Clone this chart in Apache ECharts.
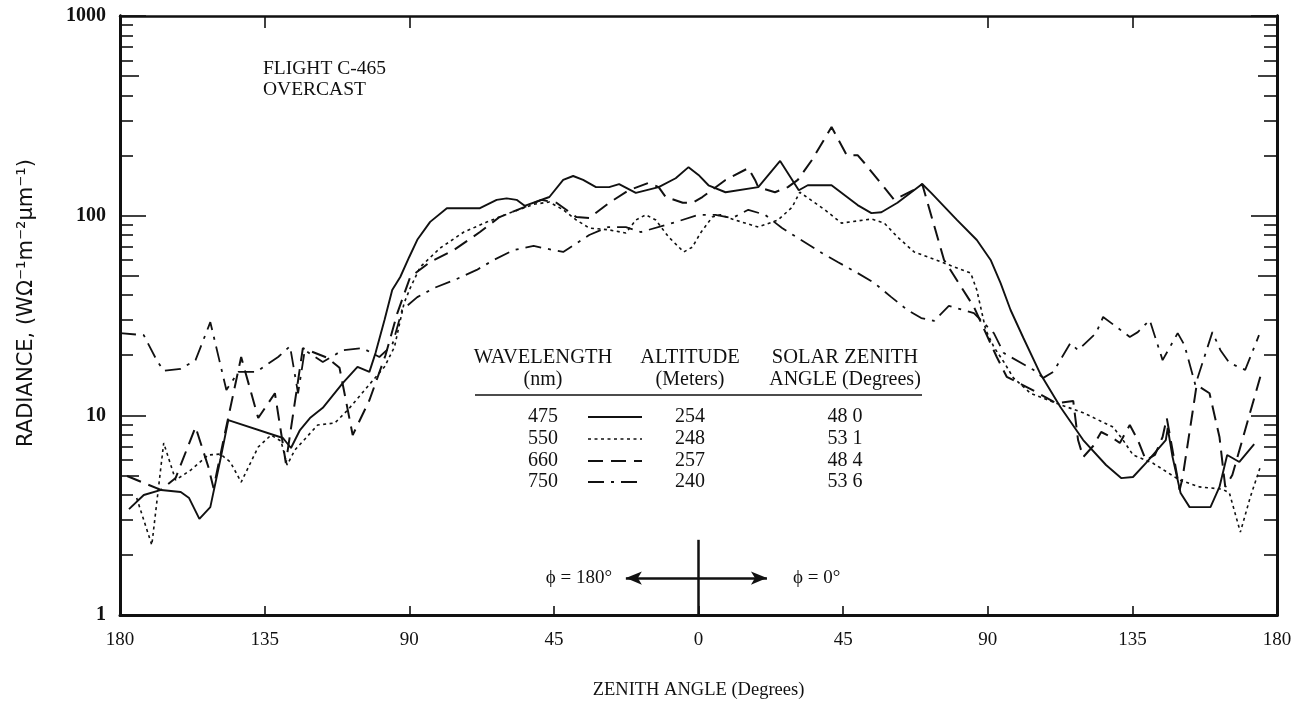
<!DOCTYPE html>
<html>
<head>
<meta charset="utf-8">
<script src="https://cdn.jsdelivr.net/npm/echarts@6/dist/echarts.min.js"></script>
<style>
  html, body { margin: 0; padding: 0; background: #fff; }
  #chart { width: 1313px; height: 705px; }
</style>
</head>
<body>
<div id="chart"></div>
<script>
// Zenith angle: negative = phi 180 side (left half), positive = phi 0 side (right half)
const angles475 = [-177.2,-172.6,-167.2,-161.1,-158.5,-155.3,-151.9,-148.8,-146.3,-129.3,-126.8,-124.0,-120.9,-116.9,-110.7,-106.1,-102.4,-100.5,-97.7,-95.3,-92.8,-90.0,-87.5,-83.5,-78.3,-68.0,-62.8,-59.7,-56.6,-54.1,-46.4,-42.1,-39.0,-35.9,-31.9,-27.8,-24.7,-19.5,-12.4,-7.1,-3.1,0,3.1,8.4,18.6,25.4,31.2,34.0,41.4,49.5,53.8,56.9,61.9,69.6,72.4,80.4,86.6,90.9,94.0,97.1,101.1,106.4,112.6,119.7,126.8,131.5,135.2,139.2,145.4,146.0,147.5,150.0,152.8,159.3,162.1,164.5,168.3,172.9];
const radiance475 = [3.39,3.99,4.23,4.13,3.85,3.03,3.47,5.97,9.47,7.70,6.86,8.44,9.69,10.9,14.5,17.5,16.5,20.5,30.0,42.4,49.3,62.1,75.7,93.1,109,109,120,122,120,112,124,151,158,151,139,139,144,130,139,154,175,160,142,131,139,188,134,142,142,113,103,104,116,144,130,95.2,75.5,60.0,45.9,33.7,24.4,16.1,11.0,7.52,5.64,4.85,4.91,5.77,7.52,8.64,6.18,4.08,3.47,3.47,4.38,6.33,5.84,7.18];

const angles550 = [-174.8,-170.1,-166.4,-162.7,-158.0,-152.5,-148.8,-145.7,-142.3,-137.0,-133.0,-129.9,-128.0,-125.6,-118.5,-113.2,-109.2,-103.0,-97.7,-94.6,-91.6,-89.7,-86.6,-80.4,-73.0,-65.9,-58.8,-51.3,-46.4,-42.1,-38.0,-34.0,-27.8,-22.6,-19.5,-16.4,-13.3,-9.3,-4.6,-1.9,0.6,4.3,6.8,11.4,18.6,24.7,29.1,31.5,39.3,44.5,53.8,57.8,61.9,67.1,76.4,84.7,86.6,89.4,91.9,95.0,98.0,103.3,111.3,119.7,129.0,132.1,135.2,141.3,149.7,155.9,163.0,165.2,168.6,171.7,174.8];
const radiance550 = [3.85,2.24,7.27,4.74,5.32,6.33,6.40,5.84,4.63,6.94,7.96,7.43,5.64,6.70,8.94,9.15,10.6,13.9,17.5,22.0,36.5,43.4,55.3,68.8,82.8,92.9,103,114,117,107,95.1,86.7,84.9,81.8,95.1,101,95.1,78.2,65.8,69.6,81.8,98.4,101,95.1,87.7,95.1,110,131,107,91.8,96.2,91.8,78.2,65.8,57.9,51.6,42.4,26.7,22.0,18.5,15.4,12.9,11.5,10.3,8.74,7.52,6.33,5.77,4.74,4.38,4.27,4.08,2.60,3.90,5.51];

const angles660 = [-177.8,-167.3,-162.7,-156.5,-152.5,-150.9,-147.8,-142.3,-137.0,-131.8,-128.4,-123.1,-115.4,-111.7,-107.6,-102.4,-97.4,-93.7,-89.7,-83.5,-76.1,-68.0,-61.9,-54.4,-48.9,-44.2,-38.0,-34.0,-27.8,-21.7,-15.5,-12.4,-10.2,-4.9,-1.9,1.2,8.4,15.5,17.6,18.6,23.8,27.8,30.9,35.3,41.4,46.1,49.5,51.7,60.9,68.0,69.6,76.4,85.7,92.8,95.9,98.0,105.8,111.3,116.6,118.1,119.7,122.8,125.3,128.4,131.1,134.2,136.7,139.2,142.0,144.4,145.7,147.5,149.7,150.6,153.7,155.0,159.0,162.1,163.9,166.1,169.2,174.8];
const radiance660 = [4.97,4.23,4.85,8.74,5.51,4.32,7.52,19.6,9.69,12.9,5.77,21.7,19.4,17.3,7.96,11.9,20.0,32.5,49.3,58.6,67.3,82.8,98.4,110,120,116,98.4,97.3,116,134,146,139,124,116,116,124,151,173,151,139,131,139,151,190,278,201,201,183,120,137,144,60.0,34.9,19.6,15.6,15.0,12.9,11.5,11.8,7.52,6.18,7.02,8.25,7.79,7.27,8.94,7.52,5.97,6.33,7.79,9.69,6.70,4.23,4.85,10.3,14.2,12.9,7.79,4.38,5.02,7.52,15.6];

const angles750 = [-180,-172.6,-168.6,-166.4,-161.1,-156.5,-151.9,-146.9,-143.2,-137.6,-130.8,-127.1,-124.6,-122.5,-116.9,-110.7,-104.5,-99.3,-95.3,-92.2,-87.5,-82.3,-75.2,-69.0,-63.7,-57.5,-51.3,-45.2,-42.1,-34.0,-28.1,-22.6,-17.9,-7.1,0,5.3,10.5,15.5,20.7,26.0,30.9,38.4,43.3,49.5,54.7,60.0,65.0,69.3,73.3,77.9,85.7,91.9,95.0,104.2,107.3,110.4,115.7,118.1,123.7,125.9,134.2,136.7,140.4,144.4,149.1,151.2,154.6,159.9,162.4,165.2,170.1,174.4];
const radiance750 = [25.8,25.2,18.9,16.7,17.1,18.9,29.3,13.4,16.5,16.5,19.6,22.2,12.9,21.2,18.5,21.2,21.7,19.6,22.5,33.7,39.1,43.4,48.2,53.5,60.0,67.3,70.5,67.3,65.8,80.0,87.7,87.7,82.8,92.9,101,101,97.3,107,101,86.7,77.3,65.0,58.6,51.6,46.0,39.1,33.7,30.7,29.7,35.3,32.5,25.8,20.5,16.9,15.4,16.5,23.0,21.2,25.8,31.1,24.7,26.1,30.0,18.9,25.8,22.5,14.2,26.1,21.2,18.3,16.9,25.2];

// Legend table rows
const wavelengths = ['475', '550', '660', '750'];
const altitudes = ['254', '248', '257', '240'];
const solarZenith = ['48 0', '53 1', '48 4', '53 6'];

// Axis tick positions and labels
const xTickLabels = ['180', '135', '90', '45', '0', '45', '90', '135', '180'];
const topTicks = [-135, -90, 90, 135];
const yTickLabels = { 1: '1', 10: '10', 100: '100', 1000: '1000' };
const majorTicks = [1, 10, 100, 1000];
const halfTicks = [5, 50, 500];
const minorTicks = [2, 3, 4, 6, 7, 8, 9, 20, 30, 40, 60, 70, 80, 90, 200, 300, 400, 600, 700, 800, 900];

// Phi direction marker (angle, radiance)
const phiArrowEnds = [[-22.6, 1.53], [21.3, 1.53]];
const phiStem = [[0, 1], [0, 2.38]];

const INK = '#111';
const SERIF = '"Liberation Serif", "DejaVu Serif", serif';

const lineStyles = {
  '475': { type: 'solid', width: 1.9 },
  '550': { type: [3, 3.5], width: 1.6 },
  '660': { type: [15, 8], width: 2 },
  '750': { type: [16, 7, 3, 7], width: 1.8 }
};

function pairs(xs, ys) { return xs.map((x, i) => [x, ys[i]]); }

function logAxis(position, ticks, len, showLabel, extra) {
  return Object.assign({
    type: 'log', logBase: 10, min: 1, max: 1000, position: position,
    axisLine: { show: true, onZero: false, lineStyle: { color: INK, width: 3 } },
    axisTick: { show: true, inside: true, length: len, customValues: ticks, lineStyle: { color: INK, width: 1.6 } },
    axisLabel: showLabel ? {
      show: true, customValues: majorTicks, margin: 14,
      fontFamily: SERIF, fontSize: 20, fontWeight: 'bold', color: INK,
      formatter: v => yTickLabels[Math.round(v)]
    } : { show: false },
    splitLine: { show: false },
    minorTick: { show: false }
  }, extra || {});
}

const chart = echarts.init(document.getElementById('chart'), null, { renderer: 'canvas' });

const grid = { left: 120, right: 36, top: 16, bottom: 90 };

function seriesFor(key, xs, ys, extra) {
  return Object.assign({
    name: key, type: 'line', xAxisIndex: 0, yAxisIndex: 0,
    data: pairs(xs, ys), showSymbol: false, symbol: 'none', smooth: false,
    lineStyle: { color: INK, width: lineStyles[key].width, type: lineStyles[key].type },
    z: 3
  }, extra || {});
}

// Legend table and annotations drawn as graphic elements
const tableX = { wave: 543, line1: 588, line2: 642, alt: 690, sza: 845 };
const rowY = [417, 439, 461, 482];
const graphic = [];
function txt(s, x, y, size, align, extra) {
  graphic.push({ type: 'text', x: x, y: y, silent: true,
    style: Object.assign({ text: s, font: size + 'px ' + SERIF, fill: INK,
      textAlign: align || 'center', textVerticalAlign: 'middle' }, extra || {}) });
}
// Vertical axis title
graphic.push({ type: 'text', x: 27, y: 303, rotation: Math.PI / 2, silent: true,
  style: { text: 'RADIANCE, (W\u03A9\u207B\u00B9m\u207B\u00B2\u03BCm\u207B\u00B9)',
    font: '21px "DejaVu Sans", sans-serif', fill: INK, textAlign: 'center', textVerticalAlign: 'middle' } });
txt('FLIGHT C-465', 263, 69, 19.5, 'left');
txt('OVERCAST', 263, 90, 19.5, 'left');
txt('WAVELENGTH', tableX.wave, 358, 20.5);
txt('(nm)', tableX.wave, 380, 20);
txt('ALTITUDE', tableX.alt, 358, 20.5);
txt('(Meters)', tableX.alt, 380, 20);
txt('SOLAR ZENITH', tableX.sza, 358, 20.5);
txt('ANGLE (Degrees)', tableX.sza, 380, 20);
graphic.push({ type: 'line', silent: true, shape: { x1: 475, y1: 395, x2: 922, y2: 395 },
  style: { stroke: INK, lineWidth: 1.5 } });
const keys = ['475', '550', '660', '750'];
keys.forEach((k, i) => {
  txt(wavelengths[i], tableX.wave, rowY[i], 20);
  txt(altitudes[i], tableX.alt, rowY[i], 20);
  txt(solarZenith[i], tableX.sza, rowY[i], 20);
  const t = lineStyles[k].type;
  graphic.push({ type: 'line', silent: true,
    shape: { x1: tableX.line1, y1: rowY[i], x2: tableX.line2, y2: rowY[i] },
    style: { stroke: INK, lineWidth: lineStyles[k].width, lineDash: Array.isArray(t) ? t : null } });
});
txt('\u03D5 = 180\u00B0', 612, 578, 19, 'right');
txt('\u03D5 = 0\u00B0', 793, 578, 19, 'left');

const option = {
  animation: false,
  backgroundColor: '#fff',
  grid: grid,
  xAxis: [
    {
      type: 'value', min: -180, max: 180, interval: 45, position: 'bottom',
      name: 'ZENITH ANGLE (Degrees)', nameLocation: 'middle', nameGap: 66,
      nameTextStyle: { fontFamily: SERIF, fontSize: 18.5, color: INK },
      axisLine: { show: true, onZero: false, lineStyle: { color: INK, width: 3 } },
      axisTick: { show: true, inside: true, length: 9, lineStyle: { color: INK, width: 1.6 } },
      axisLabel: { margin: 16, fontFamily: SERIF, fontSize: 19, color: INK,
        formatter: v => xTickLabels[Math.round((v + 180) / 45)] },
      splitLine: { show: false }
    },
    {
      type: 'value', min: -180, max: 180, interval: 45, position: 'top',
      axisLine: { show: true, onZero: false, lineStyle: { color: INK, width: 2.5 } },
      axisTick: { show: true, inside: true, length: 12, customValues: topTicks, lineStyle: { color: INK, width: 1.6 } },
      axisLabel: { show: false },
      splitLine: { show: false }
    }
  ],
  yAxis: [
    logAxis('left', majorTicks, 26, true),
    logAxis('left', halfTicks, 19, false),
    logAxis('left', minorTicks, 13, false),
    logAxis('right', majorTicks, 26, false),
    logAxis('right', halfTicks, 19, false),
    logAxis('right', minorTicks, 13, false)
  ],
  series: [
    seriesFor('475', angles475, radiance475, {
      markLine: {
        silent: true, animation: false, symbol: ['none', 'none'], symbolSize: [10, 16],
        label: { show: false },
        lineStyle: { color: INK, width: 2.5, type: 'solid' },
        data: [
          [{ coord: phiArrowEnds[0], symbol: 'arrow' }, { coord: phiArrowEnds[1], symbol: 'arrow' }],
          [{ coord: phiStem[0] }, { coord: phiStem[1] }]
        ]
      }
    }),
    seriesFor('550', angles550, radiance550),
    seriesFor('660', angles660, radiance660),
    seriesFor('750', angles750, radiance750)
  ],
  graphic: graphic
};

chart.setOption(option);
</script>
</body>
</html>
